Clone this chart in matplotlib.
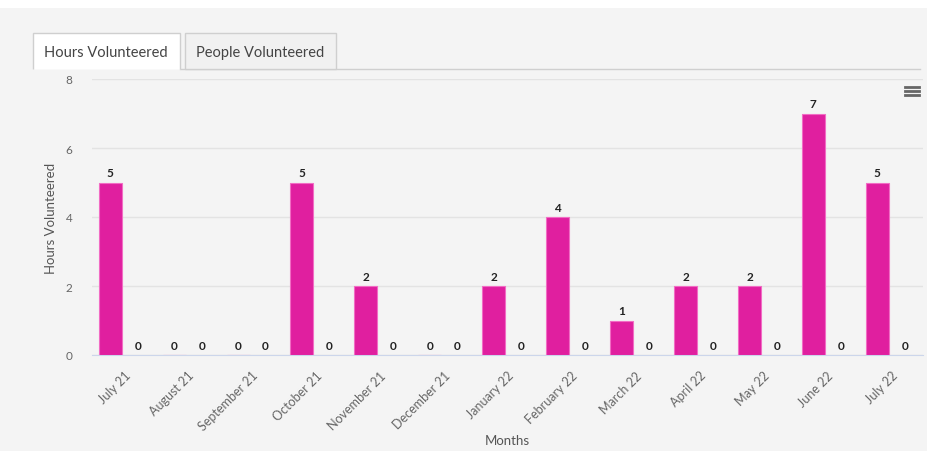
import numpy as np
import matplotlib.pyplot as plt
from matplotlib.patches import Rectangle, Polygon
from matplotlib.lines import Line2D

plt.rcParams['font.family'] = ['Lato', 'DejaVu Sans']

months = ['July 21', 'August 21', 'September 21', 'October 21', 'November 21',
          'December 21', 'January 22', 'February 22', 'March 22', 'April 22',
          'May 22', 'June 22', 'July 22']
hours = [5, 0, 0, 5, 2, 0, 2, 4, 1, 2, 2, 7, 5]
other = [0, 0, 0, 0, 0, 0, 0, 0, 0, 0, 0, 0, 0]

W, H = 928, 452
bg = '#f4f4f4'
fig = plt.figure(figsize=(W / 100, H / 100), dpi=100, facecolor=bg)

def fx(px):
    return px / W

def fy(py):
    return 1 - py / H

# white strip on top
fig.patches.append(Rectangle((0, fy(9)), 1, 9 / H, transform=fig.transFigure,
                             facecolor='white', edgecolor='none', zorder=0))

# tabs
tab_line = '#cfcfcf'
fig.patches.append(Polygon([(fx(33), fy(70)), (fx(33), fy(34)), (fx(180), fy(34)), (fx(180), fy(70))],
                           closed=False, transform=fig.transFigure, facecolor='white',
                           edgecolor=tab_line, lw=1, zorder=2))
fig.patches.append(Polygon([(fx(185), fy(70)), (fx(185), fy(34)), (fx(336), fy(34)), (fx(336), fy(70))],
                           closed=True, transform=fig.transFigure, facecolor='#f1f1f1',
                           edgecolor=tab_line, lw=1, zorder=2))
fig.lines.append(Line2D([fx(180), fx(920)], [fy(70), fy(70)], transform=fig.transFigure,
                        color=tab_line, lw=1, zorder=1))
fig.text(fx(106), fy(53), 'Hours Volunteered', ha='center', va='center', fontsize=10.5, color='#444444')
fig.text(fx(260), fy(53), 'People Volunteered', ha='center', va='center', fontsize=10.5, color='#444444')

# hamburger menu
for dy in (-4, 0, 4):
    fig.lines.append(Line2D([fx(905), fx(919)], [fy(92 + dy), fy(92 + dy)], transform=fig.transFigure,
                            color='#666666', lw=2))

ax = fig.add_axes([fx(92), fy(356), fx(923) - fx(92), fy(80) - fy(356)])
ax.set_facecolor(bg)

x = np.arange(len(months))
off = 0.215
bw = 0.36
ax.bar(x - off, hours, bw, color='#e01f9f', edgecolor='#f26cc4', lw=0.8, zorder=3)
ax.bar(x + off, other, bw, color='#434348', zorder=3)

for xi, v in zip(x, hours):
    ax.annotate(str(v), (xi - off, v), xytext=(0, 3), textcoords='offset points',
                ha='center', va='bottom', fontsize=8.5, fontweight='bold', color='#222222')
for xi, v in zip(x, other):
    ax.annotate(str(v), (xi + off, v), xytext=(0, 3), textcoords='offset points',
                ha='center', va='bottom', fontsize=8.5, fontweight='bold', color='#222222')

ax.set_xlim(-0.5, len(months) - 0.5)
ax.set_ylim(0, 8)
ax.set_yticks([0, 2, 4, 6, 8])
ax.yaxis.grid(True, color='#e3e3e3', lw=1, zorder=0)
ax.set_axisbelow(True)
for s in ['top', 'right', 'left']:
    ax.spines[s].set_visible(False)
ax.spines['bottom'].set_color('#ccd6eb')
ax.tick_params(axis='y', length=0, pad=14, labelsize=8.5, labelcolor='#666666')
ax.tick_params(axis='x', length=0, pad=10, labelsize=9, labelcolor='#666666')
ax.set_xticks(x)
ax.set_xticklabels(months, rotation=45, ha='right', rotation_mode='anchor')
ax.set_ylabel('Hours Volunteered', fontsize=9.5, color='#555555', labelpad=6)
ax.set_xlabel('Months', fontsize=9.5, color='#555555', labelpad=1)

fig.savefig('out.png', dpi=100, facecolor=bg)
